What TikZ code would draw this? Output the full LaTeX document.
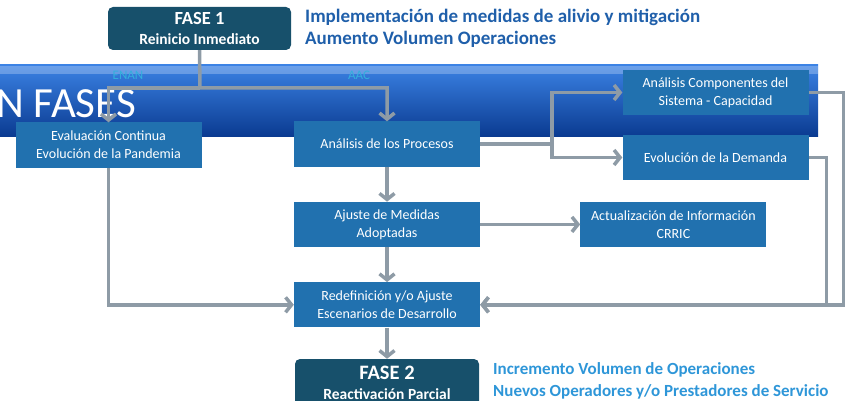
\documentclass[tikz,border=0pt]{standalone}
\usepackage{fontspec}
\setmainfont{Carlito}
\usepackage{xcolor}
\usetikzlibrary{arrows.meta,positioning}

\definecolor{boxblue}{HTML}{2171AF}
\definecolor{phaseteal}{HTML}{17506B}
\definecolor{linegray}{HTML}{8E9BA6}
\definecolor{titleblue}{HTML}{1F5FAA}
\definecolor{notesblue}{HTML}{2E96D8}
\definecolor{banlight}{HTML}{3B82E4}
\definecolor{banmid}{HTML}{0B4EC2}
\definecolor{bandark}{HTML}{0A3A90}
\definecolor{tagcyan}{HTML}{33B0DD}

\begin{document}
\begin{tikzpicture}[
		x=1pt, y=-1pt,
		box/.style={fill=boxblue, text=white,
			align=center, inner sep=2pt,
			minimum width=186pt, minimum height=45pt,
			font=\fontsize{14}{18}\selectfont},
		phase/.style={fill=phaseteal, text=white, rounded corners=5pt,
			align=center, inner sep=2pt,
			minimum width=184pt, minimum height=44pt},
		arrow/.style={draw=linegray, line width=3.5pt,
			-{Straight Barb[length=6pt, width=15pt]}},
		]
		
		\useasboundingbox (0,0) rectangle (846,401);
		
		% banner behind the chart
		\shade[top color=banlight, middle color=banmid, bottom color=bandark]
		(-5,65) rectangle (818,137);
		\fill[white, opacity=0.25] (-5,66) rectangle (818,74);
		\node[anchor=west, text=white, inner sep=0pt,
		font=\fontsize{43}{45}\selectfont] (banner) at (-4,104) {N FASES};
		\node[text=tagcyan, font=\fontsize{13}{14}\selectfont] (enan) at (128,75) {ENAN};
		\node[text=tagcyan, font=\fontsize{13}{14}\selectfont] (aac) at (359,75) {AAC};
		
		% phases
		\node[phase, minimum width=183pt, minimum height=43pt,
		font=\fontsize{15.5}{20}\selectfont\bfseries] (f1) at (199.5,28.5)
		{{\fontsize{18.5}{20}\selectfont FASE 1}\\Reinicio Inmediato};
		\node[anchor=west, align=left, text=titleblue, inner sep=0pt,
		font=\fontsize{19}{22}\selectfont\bfseries] (goals1) at (305,28)
		{Implementación de medidas de alivio y mitigación\\
			Aumento Volumen Operaciones};
		
		\node[box] (eval) at (108.5,145) {Evaluación Continua\\Evolución de la Pandemia};
		\node[box] (proc) at (387,144) {Análisis de los Procesos};
		\node[box] (comp) at (715.5,92.5) {Análisis Componentes del\\Sistema - Capacidad};
		\node[box] (dem) at (715.5,157.5) {Evolución de la Demanda};
		\node[box, below=35pt of proc] (adj) {Ajuste de Medidas\\Adoptadas};
		\node[box, right=100pt of adj] (crric) {Actualización de Información\\CRRIC};
		\node[box, below=35pt of adj] (redef) {Redefinición y/o Ajuste\\Escenarios de Desarrollo};
		
		\node[phase, minimum height=48pt,
		font=\fontsize{15.5}{20}\selectfont\bfseries] (f2) at (387,383)
		{{\fontsize{20.5}{20}\selectfont FASE 2}\\Reactivación Parcial};
		\node[anchor=west, align=left, text=notesblue, inner sep=0pt,
		font=\fontsize{17}{22}\selectfont\bfseries] (goals2) at (493,381)
		{Incremento Volumen de Operaciones\\
			Nuevos Operadores y/o Prestadores de Servicio};
		
		% connectors
		\coordinate (fork) at (200,88);
		\coordinate (branch) at (552,144);
		\draw[arrow] (f1.south) -- (fork) -| (proc.north);
		\draw[arrow] (fork) -| (eval.north);
		\draw[arrow] (proc.east) -- (branch) |- (comp.west);
		\draw[arrow] (branch) |- (dem.west);
		\draw[arrow] (proc) -- (adj);
		\draw[arrow] (adj) -- (crric);
		\draw[arrow] (adj) -- (redef);
		\draw[arrow] (eval.south) |- (redef.west);
		\draw[arrow] (comp.east) -- ++(35,0) |- (redef.east);
		\draw[arrow] (dem.east) -- ++(18,0) |- (redef.east);
		\draw[arrow] (redef) -- (f2);
		
	\end{tikzpicture}
\end{document}
